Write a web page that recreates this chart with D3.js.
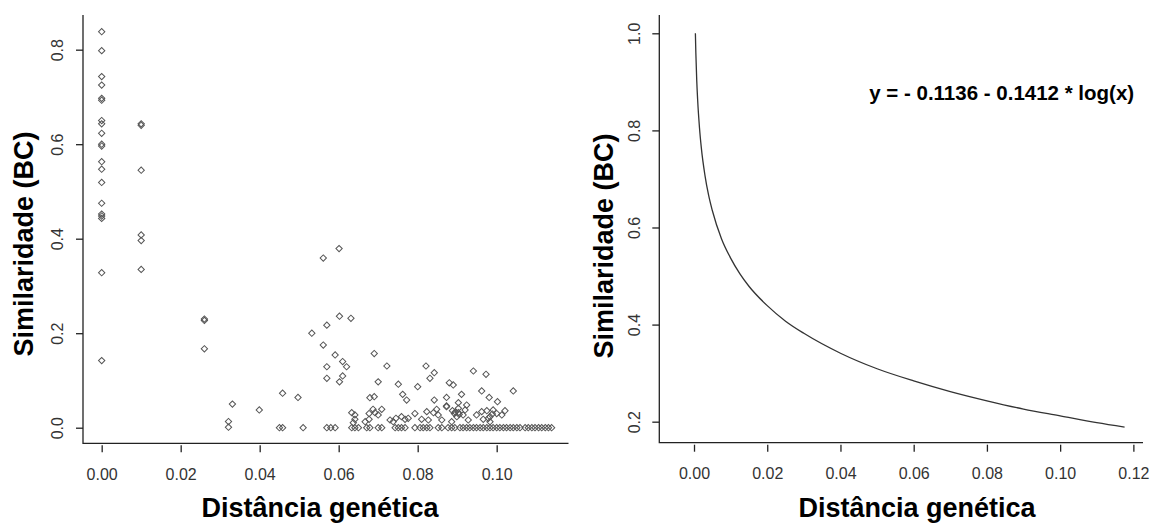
<!DOCTYPE html>
<html>
<head>
<meta charset="utf-8">
<script src="https://cdn.jsdelivr.net/npm/d3@7"></script>
<style>
    body { margin: 0; background: #fff; }
    svg { display: block; font-family: "Liberation Sans", Arial, sans-serif; }
</style>
</head>
<body>
<svg id="chart"></svg>
<script>
// tick labels
const scatterXTicks = [0, 0.02, 0.04, 0.06, 0.08, 0.10];
const scatterYTicks = [0.0, 0.2, 0.4, 0.6, 0.8];
const curveXTicks = [0, 0.02, 0.04, 0.06, 0.08, 0.10, 0.12];
const curveYTicks = [0.2, 0.4, 0.6, 0.8, 1.0];

// left panel: distance vs similarity pairs
const pointsCol0 = [
    [0, 0.838], [0, 0.798], [0, 0.743], [0, 0.725], [0, 0.697], [0, 0.693],
    [0, 0.650], [0, 0.643], [0, 0.623], [0, 0.600], [0, 0.596], [0, 0.563],
    [0, 0.547], [0, 0.519], [0, 0.475], [0, 0.452], [0, 0.448], [0, 0.443],
    [0, 0.328], [0, 0.142]
];
const pointsCol1 = [
    [0.01, 0.643], [0.01, 0.640], [0.01, 0.545], [0.01, 0.408], [0.01, 0.396], [0.01, 0.335],
    [0.026, 0.230], [0.026, 0.227], [0.026, 0.167]
];
const pointsMid = [
    [0.0331, 0.050], [0.0321, 0.013], [0.0321, 0.001], [0.0399, 0.0375], [0.0458, 0.073],
    [0.0450, 0.0], [0.0458, 0.0], [0.0497, 0.064],
    [0.0561, 0.359], [0.0601, 0.379], [0.0532, 0.200], [0.0570, 0.217], [0.0602, 0.236],
    [0.0631, 0.2315], [0.0561, 0.175], [0.0591, 0.154], [0.0570, 0.129], [0.0610, 0.140],
    [0.0620, 0.129], [0.0570, 0.1045], [0.0610, 0.1095], [0.0602, 0.097], [0.0690, 0.157],
    [0.0722, 0.1306], [0.0700, 0.097], [0.0751, 0.092], [0.0679, 0.0635], [0.0690, 0.0656],
    [0.0762, 0.0706], [0.0772, 0.0586], [0.0800, 0.0868], [0.0821, 0.1306], [0.0842, 0.1164],
    [0.0831, 0.1045], [0.0842, 0.0586], [0.0873, 0.064], [0.0880, 0.095], [0.0890, 0.0904],
    [0.0911, 0.0706], [0.0873, 0.0444], [0.0941, 0.120], [0.0973, 0.113], [0.0962, 0.0777],
    [0.0981, 0.064], [0.1002, 0.055], [0.1042, 0.0777]
];
const pointsLow = [
    [0.0633, 0.0318], [0.0641, 0.027], [0.0641, 0.0178], [0.0637, 0.0106], [0.0667, 0.0127],
    [0.0677, 0.0178], [0.0687, 0.039], [0.0692, 0.0318], [0.0700, 0.027], [0.0709, 0.039],
    [0.0677, 0.030], [0.0730, 0.0163], [0.0738, 0.0127], [0.0745, 0.020], [0.0759, 0.0233],
    [0.0768, 0.0178], [0.0873, 0.046], [0.0924, 0.048], [0.0903, 0.053], [0.0903, 0.041],
    [0.0920, 0.0375], [0.0793, 0.030], [0.0823, 0.034], [0.0840, 0.0318], [0.0848, 0.039],
    [0.0852, 0.027], [0.0893, 0.030], [0.0899, 0.0233], [0.0903, 0.0318], [0.0915, 0.027],
    [0.0949, 0.027], [0.0962, 0.034], [0.0975, 0.036], [0.0989, 0.029], [0.0776, 0.020],
    [0.0810, 0.0178], [0.0827, 0.0163], [0.0861, 0.0163], [0.0886, 0.0127], [0.0928, 0.0163],
    [0.0966, 0.0178], [0.0979, 0.020], [0.0983, 0.0127], [0.0991, 0.0375], [0.1000, 0.030],
    [0.1013, 0.027], [0.1021, 0.036], [0.0983, 0.0233], [0.0895, 0.033], [0.0905, 0.028],
    [0.0888, 0.036]
];
// points sitting on similarity = 0
const zeroRowX = [
    0.0510, 0.0570, 0.0580, 0.0591, 0.0633, 0.0641, 0.0650, 0.0671, 0.0679, 0.0700, 0.0709,
    0.0743, 0.0751, 0.0759, 0.0768, 0.0793, 0.0806, 0.0814, 0.0823, 0.0831, 0.0852, 0.0861,
    0.0877, 0.0886, 0.0894, 0.0907, 0.0915, 0.0924, 0.0932, 0.0941, 0.0949, 0.0958, 0.0966,
    0.0975, 0.0983, 0.0991, 0.1000, 0.1008, 0.1017, 0.1025, 0.1034, 0.1042, 0.1051, 0.1059,
    0.1072, 0.1080, 0.1089, 0.1097, 0.1106, 0.1114, 0.1123, 0.1131, 0.1139
];

// right panel: fitted curve
const curveX = [0.000376, 0.0005, 0.00075, 0.001, 0.0015, 0.002, 0.003, 0.004, 0.005, 0.0075,
    0.01, 0.0125, 0.015, 0.02, 0.025, 0.03, 0.04, 0.05, 0.06, 0.07, 0.08, 0.09, 0.10, 0.11, 0.1176];
const curveY = [1.000, 0.960, 0.902, 0.862, 0.805, 0.764, 0.707, 0.666, 0.635, 0.577,
    0.537, 0.505, 0.479, 0.439, 0.407, 0.382, 0.341, 0.309, 0.284, 0.262, 0.243, 0.226, 0.212, 0.198, 0.189];

const equationText = 'y = - 0.1136 - 0.1412 * log(x)';
const xTitle = 'Distância genética';
const yTitle = 'Similaridade (BC)';

class Panel {
    constructor (config) {
        this.config = config;
        this.init();
    }

    init() {
        let self = this;
        const c = self.config;

        self.x = d3.scaleLinear().domain(c.x_domain).range([c.left, c.right]);
        self.y = d3.scaleLinear().domain(c.y_domain).range([c.bottom, c.top]);
        self.g = c.svg.append('g');

        // L-shaped box
        self.g.append('path')
            .attr('d', `M${c.left},${c.top}V${c.bottom}H${c.right}`)
            .attr('fill', 'none')
            .attr('stroke', '#222')
            .attr('stroke-width', 1.3);

        const xaxis = d3.axisBottom(self.x)
            .tickValues(c.x_ticks)
            .tickFormat(d3.format('.2f'))
            .tickSize(7)
            .tickPadding(16);
        self.g.append('g')
            .attr('transform', `translate(0,${c.bottom + 2})`)
            .call(xaxis)
            .call(g => g.select('.domain').remove())
            .call(g => g.selectAll('line').attr('stroke', '#222').attr('stroke-width', 1.3))
            .call(g => g.selectAll('text')
                .attr('fill', '#333')
                .style('font-size', '16px')
                .style('font-family', '"Liberation Sans", Arial, sans-serif'));

        const yaxis = d3.axisLeft(self.y)
            .tickValues(c.y_ticks)
            .tickFormat(d3.format('.1f'))
            .tickSize(7);
        self.g.append('g')
            .attr('transform', `translate(${c.left},0)`)
            .call(yaxis)
            .call(g => g.select('.domain').remove())
            .call(g => g.selectAll('line').attr('stroke', '#222').attr('stroke-width', 1.3))
            .call(g => g.selectAll('text')
                .attr('fill', '#333')
                .attr('transform', 'rotate(-90)')
                .attr('x', 0)
                .attr('y', -19.7)
                .attr('dy', 0)
                .attr('text-anchor', 'middle')
                .style('font-size', '16px')
                .style('font-family', '"Liberation Sans", Arial, sans-serif'));

        self.g.append('text')
            .attr('x', c.xtitle_pos[0])
            .attr('y', c.xtitle_pos[1])
            .attr('text-anchor', 'middle')
            .style('font-size', '27px')
            .style('font-weight', 'bold')
            .text(xTitle);

        self.g.append('text')
            .attr('transform', `translate(${c.ytitle_pos[0]},${c.ytitle_pos[1]}) rotate(-90)`)
            .attr('text-anchor', 'middle')
            .style('font-size', '27px')
            .style('font-weight', 'bold')
            .text(yTitle);
    }

    drawPoints(data) {
        let self = this;
        const diamond = d3.symbol().type(d3.symbolSquare).size(20);
        self.g.append('g').selectAll('path')
            .data(data)
            .join('path')
            .attr('transform', d => `translate(${self.x(d[0])},${self.y(d[1])}) rotate(45)`)
            .attr('d', diamond)
            .attr('fill', 'none')
            .attr('stroke', '#555')
            .attr('stroke-width', 1);
    }

    drawCurve(xs, ys) {
        let self = this;
        const line = d3.line()
            .x(d => self.x(d[0]))
            .y(d => self.y(d[1]))
            .curve(d3.curveMonotoneX);
        self.g.append('path')
            .datum(d3.zip(xs, ys))
            .attr('d', line)
            .attr('fill', 'none')
            .attr('stroke', '#333')
            .attr('stroke-width', 1.3);
    }
}

const svg = d3.select('#chart')
    .attr('width', 1153)
    .attr('height', 525);
svg.append('rect').attr('width', 1153).attr('height', 525).attr('fill', '#fff');

const left = new Panel({
    svg: svg,
    left: 83, right: 568.5, top: 15, bottom: 443.3,
    x_domain: [-0.00473, 0.11818],
    y_domain: [-0.033, 0.8734],
    x_ticks: scatterXTicks,
    y_ticks: scatterYTicks,
    xtitle_pos: [320, 517],
    ytitle_pos: [33, 244]
});
left.drawPoints(pointsCol0.concat(pointsCol1, pointsMid, pointsLow, zeroRowX.map(v => [v, 0])));

const right = new Panel({
    svg: svg,
    left: 659.3, right: 1143, top: 15, bottom: 442.7,
    x_domain: [-0.00948, 0.12263],
    y_domain: [0.1567, 1.0377],
    x_ticks: curveXTicks,
    y_ticks: curveYTicks,
    xtitle_pos: [917, 517],
    ytitle_pos: [613, 246]
});
right.drawCurve(curveX, curveY);

svg.append('text')
    .attr('x', 1001.7)
    .attr('y', 100)
    .attr('text-anchor', 'middle')
    .style('font-size', '20.5px')
    .style('font-weight', 'bold')
    .text(equationText);
</script>
</body>
</html>
